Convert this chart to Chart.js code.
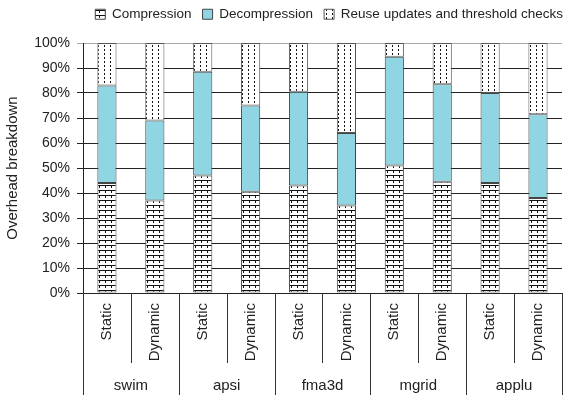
<!DOCTYPE html>
<html><head><meta charset="utf-8">
<script src="https://cdn.jsdelivr.net/npm/chart.js@4"></script>
<style>html,body{margin:0;padding:0;background:#fff}</style>
</head><body>
<canvas id="c" width="566" height="395"></canvas>
<script>
const subLabels = ['Static','Dynamic','Static','Dynamic','Static','Dynamic','Static','Dynamic','Static','Dynamic'];
const groups = ['swim','apsi','fma3d','mgrid','applu'];
const compression   = [44, 37, 47, 40.5, 43, 35, 51, 44.5, 44, 38];
const decompression = [39, 32, 41.5, 34.5, 37.5, 29, 43.5, 39, 36, 33.5];
const reuse         = [17, 31, 11.5, 25, 19.5, 36, 5.5, 16.5, 20, 28.5];
const seriesNames = ['Compression','Decompression','Reuse updates and threshold checks'];

const FONT = 'Liberation Sans, Arial, Helvetica, sans-serif';
const INK = '#222';

function makePattern(w, h, draw) {
  const c = document.createElement('canvas');
  c.width = w; c.height = h;
  const g = c.getContext('2d');
  g.fillStyle = '#fff'; g.fillRect(0, 0, w, h);
  g.fillStyle = '#111';
  draw(g);
  return g.createPattern(c, 'repeat');
}
const ctx = document.getElementById('c').getContext('2d');
const brick = makePattern(6, 5, g => { g.fillRect(0, 0, 6, 1); g.fillRect(3, 1, 1, 2); });
const dots = makePattern(6, 4, g => { g.fillRect(2, 1, 1, 2); });

const legendShift = {
  id: 'legendShift',
  afterLayout(chart) {
    const lg = chart.legend;
    if (lg) { lg.top -= 12; lg.bottom -= 12; lg.left += 8; lg.right += 8; }
  }
};

const groupPlugin = {
  id: 'groups',
  afterDraw(chart) {
    const xs = chart.scales.x, ca = chart.chartArea, c = chart.ctx;
    c.save();
    c.strokeStyle = '#333'; c.lineWidth = 1;
    for (let i = 0; i <= subLabels.length; i++) {
      const bx = Math.round(xs.getPixelForValue(i - 0.5)) + 0.5;
      const bottom = (i % 2 === 0) ? chart.height : ca.bottom + 70;
      c.beginPath(); c.moveTo(bx, ca.bottom); c.lineTo(bx, bottom); c.stroke();
    }
    c.fillStyle = INK;
    c.font = '15px ' + FONT;
    c.textAlign = 'center'; c.textBaseline = 'middle';
    groups.forEach((g, k) => {
      const cx = (xs.getPixelForValue(2 * k) + xs.getPixelForValue(2 * k + 1)) / 2;
      c.fillText(g, cx, 386);
    });
    c.restore();
  }
};

new Chart(ctx, {
  type: 'bar',
  data: {
    labels: subLabels,
    datasets: [
      { label: seriesNames[0], data: compression, backgroundColor: brick, borderColor: '#444', borderWidth: 1 },
      { label: seriesNames[1], data: decompression, backgroundColor: '#8fd5e2', borderColor: '#444', borderWidth: 1 },
      { label: seriesNames[2], data: reuse, backgroundColor: dots, borderColor: '#555', borderWidth: 1 }
    ]
  },
  options: {
    responsive: false,
    animation: false,
    devicePixelRatio: 1,
    layout: { padding: { top: 0, left: 0, right: 0, bottom: 0 } },
    datasets: { bar: { categoryPercentage: 1, barPercentage: 0.4, borderSkipped: false } },
    plugins: {
      legend: {
        position: 'top', align: 'end',
        labels: { boxWidth: 10, boxHeight: 10, padding: 11, color: INK, font: { family: FONT, size: 13.5 } }
      },
      tooltip: { enabled: false }
    },
    scales: {
      x: {
        stacked: true,
        grid: { display: false, drawTicks: false },
        border: { display: false },
        ticks: { minRotation: 90, maxRotation: 90, autoSkip: false, padding: 10, color: INK, font: { family: FONT, size: 15 } },
        afterFit(s) { s.height = 102; }
      },
      y: {
        stacked: true, min: 0, max: 100,
        ticks: { stepSize: 10, callback: v => v + '%', padding: 7, color: INK, font: { family: FONT, size: 14 } },
        grid: { color: c => (c.tick && c.tick.value === 100) ? '#aaa' : '#222', tickLength: 6, lineWidth: 1 },
        border: { color: '#222' },
        title: { display: true, text: 'Overhead breakdown', color: INK, font: { family: FONT, size: 15 }, padding: { top: 4, bottom: 0 } },
        afterFit(s) { s.width = 83; s.paddingTop = 43; }
      }
    }
  },
  plugins: [groupPlugin, legendShift]
});
</script>
</body></html>
